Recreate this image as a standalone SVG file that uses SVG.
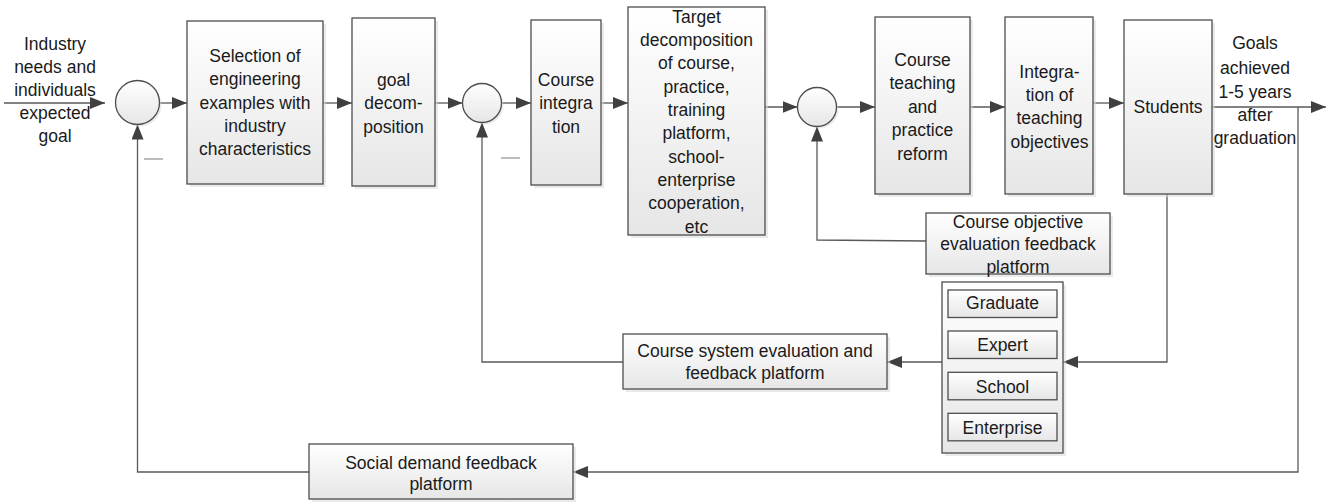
<svg xmlns="http://www.w3.org/2000/svg" width="1333" height="503" viewBox="0 0 1333 503">
<defs>
<linearGradient id="g" x1="0" y1="0" x2="0" y2="1">
<stop offset="0" stop-color="#ffffff"/>
<stop offset="1" stop-color="#e6e6e6"/>
</linearGradient>
<marker id="arr" viewBox="0 0 15 12" refX="15" refY="6" markerWidth="15" markerHeight="12" markerUnits="userSpaceOnUse" orient="auto">
<path d="M0,0 L15,6 L0,12 Z" fill="#404040"/>
</marker>
<style>
.box{fill:url(#g);stroke:#4d4d4d;stroke-width:1.3}
.sh{fill:#d9d9d9;opacity:0.55}
.t{font-family:"Liberation Sans",Arial,sans-serif;font-size:17.5px;fill:#1a1a1a;text-anchor:middle}
.c{fill:none;stroke:#595959;stroke-width:1.3}
.a{fill:none;stroke:#595959;stroke-width:1.3;marker-end:url(#arr)}
.minus{stroke:#a6a6a6;stroke-width:1.5}
</style>
</defs>

<g id="connectors">
<line class="a" x1="4" y1="103" x2="105" y2="103"/>
<line class="a" x1="159.5" y1="103" x2="187" y2="103"/>
<line class="a" x1="323" y1="103" x2="352" y2="103"/>
<line class="a" x1="435" y1="103" x2="462.5" y2="103"/>
<line class="a" x1="501.5" y1="103" x2="531" y2="103"/>
<line class="a" x1="601" y1="103" x2="628" y2="103"/>
<line class="a" x1="765" y1="107" x2="797.5" y2="107"/>
<line class="a" x1="836.5" y1="107" x2="875" y2="107"/>
<line class="a" x1="970" y1="107" x2="1005" y2="107"/>
<line class="a" x1="1093" y1="103" x2="1124" y2="103"/>
<line class="a" x1="1212" y1="107" x2="1326" y2="107"/>
<polyline class="a" points="1298,107 1298,472 573,472"/>
<polyline class="a" points="309,472 137.5,472 137.5,124.5"/>
<polyline class="a" points="1167,194 1167,362 1063,362"/>
<line class="a" x1="942" y1="362" x2="887" y2="362"/>
<polyline class="a" points="623,362 482,362 482,122.5"/>
<polyline class="a" points="926,241 817,240 817,126.5"/>
<line class="minus" x1="144" y1="159" x2="163" y2="159"/>
<line class="minus" x1="501" y1="158" x2="520" y2="158"/>
</g>

<g id="input-label">
<text class="t" x="55" y="49.5">Industry</text>
<text class="t" x="55" y="72.5">needs and</text>
<text class="t" x="55" y="95.5">individuals</text>
<text class="t" x="55" y="118.5">expected</text>
<text class="t" x="55" y="141.5">goal</text>
</g>

<g id="sum1">
<circle cx="139.5" cy="104.5" r="22" class="sh"/>
<circle cx="137.5" cy="102.5" r="22" class="box"/>
</g>

<g id="selection">
<rect x="190" y="24" width="136" height="163" class="sh"/>
<rect x="187" y="21" width="136" height="163" class="box"/>
<text class="t" x="255" y="62">Selection of</text>
<text class="t" x="255" y="85.3">engineering</text>
<text class="t" x="255" y="108.6">examples with</text>
<text class="t" x="255" y="132">industry</text>
<text class="t" x="255" y="155.3">characteristics</text>
</g>

<g id="goal-decomposition">
<rect x="355" y="21" width="83" height="168" class="sh"/>
<rect x="352" y="18" width="83" height="168" class="box"/>
<text class="t" x="393.5" y="86">goal</text>
<text class="t" x="393.5" y="109.3">decom-</text>
<text class="t" x="393.5" y="132.6">position</text>
</g>

<g id="sum2">
<circle cx="484" cy="105" r="19.5" class="sh"/>
<circle cx="482" cy="103" r="19.5" class="box"/>
</g>

<g id="course-integration">
<rect x="534" y="23" width="70" height="165" class="sh"/>
<rect x="531" y="20" width="70" height="165" class="box"/>
<text class="t" x="566" y="86">Course</text>
<text class="t" x="566" y="109.3">integra</text>
<text class="t" x="566" y="132.6">tion</text>
</g>

<g id="target-decomposition">
<rect x="631" y="10" width="137" height="228" class="sh"/>
<rect x="628" y="7" width="137" height="228" class="box"/>
<text class="t" x="696.5" y="22.7">Target</text>
<text class="t" x="696.5" y="46">decomposition</text>
<text class="t" x="696.5" y="69.3">of course,</text>
<text class="t" x="696.5" y="92.6">practice,</text>
<text class="t" x="696.5" y="116">training</text>
<text class="t" x="696.5" y="139.3">platform,</text>
<text class="t" x="696.5" y="162.6">school-</text>
<text class="t" x="696.5" y="186">enterprise</text>
<text class="t" x="696.5" y="209.3">cooperation,</text>
<text class="t" x="696.5" y="232.6">etc</text>
</g>

<g id="sum3">
<circle cx="819" cy="109" r="19.5" class="sh"/>
<circle cx="817" cy="107" r="19.5" class="box"/>
</g>

<g id="course-teaching">
<rect x="878" y="20" width="95" height="177" class="sh"/>
<rect x="875" y="17" width="95" height="177" class="box"/>
<text class="t" x="922.5" y="65.5">Course</text>
<text class="t" x="922.5" y="89">teaching</text>
<text class="t" x="922.5" y="112.5">and</text>
<text class="t" x="922.5" y="136">practice</text>
<text class="t" x="922.5" y="159.5">reform</text>
</g>

<g id="integration-objectives">
<rect x="1008" y="20" width="88" height="177" class="sh"/>
<rect x="1005" y="17" width="88" height="177" class="box"/>
<text class="t" x="1049.5" y="77.7">Integra-</text>
<text class="t" x="1049.5" y="101">tion of</text>
<text class="t" x="1049.5" y="124.3">teaching</text>
<text class="t" x="1049.5" y="147.7">objectives</text>
</g>

<g id="students">
<rect x="1127" y="23" width="88" height="174" class="sh"/>
<rect x="1124" y="20" width="88" height="174" class="box"/>
<text class="t" x="1168" y="113.3">Students</text>
</g>

<g id="output-label">
<text class="t" x="1255" y="49.3">Goals</text>
<text class="t" x="1255" y="74.3">achieved</text>
<text class="t" x="1255" y="97.7">1-5 years</text>
<text class="t" x="1255" y="121">after</text>
<text class="t" x="1255" y="144.3">graduation</text>
</g>

<g id="course-objective-feedback">
<rect x="929" y="216" width="184" height="61" class="sh"/>
<rect x="926" y="213" width="184" height="61" class="box"/>
<text class="t" x="1018" y="227.7">Course objective</text>
<text class="t" x="1018" y="250.3">evaluation feedback</text>
<text class="t" x="1018" y="272.7">platform</text>
</g>

<g id="evaluators">
<rect x="945" y="285" width="121" height="171" class="sh"/>
<rect x="942" y="282" width="121" height="171" class="box"/>
<rect x="948" y="290" width="109" height="27.5" class="box"/>
<text class="t" x="1002.5" y="309.3">Graduate</text>
<rect x="948" y="331" width="109" height="27.5" class="box"/>
<text class="t" x="1002.5" y="351">Expert</text>
<rect x="948" y="372.3" width="109" height="27.5" class="box"/>
<text class="t" x="1002.5" y="392.7">School</text>
<rect x="948" y="413.3" width="109" height="27.5" class="box"/>
<text class="t" x="1002.5" y="433.7">Enterprise</text>
</g>

<g id="course-system-feedback">
<rect x="626" y="337" width="264" height="55" class="sh"/>
<rect x="623" y="334" width="264" height="55" class="box"/>
<text class="t" x="755" y="357">Course system evaluation and</text>
<text class="t" x="755" y="379.3">feedback platform</text>
</g>

<g id="social-demand-feedback">
<rect x="312" y="447" width="264" height="55" class="sh"/>
<rect x="309" y="444" width="264" height="55" class="box"/>
<text class="t" x="441" y="468.7">Social demand feedback</text>
<text class="t" x="441" y="490">platform</text>
</g>
</svg>
